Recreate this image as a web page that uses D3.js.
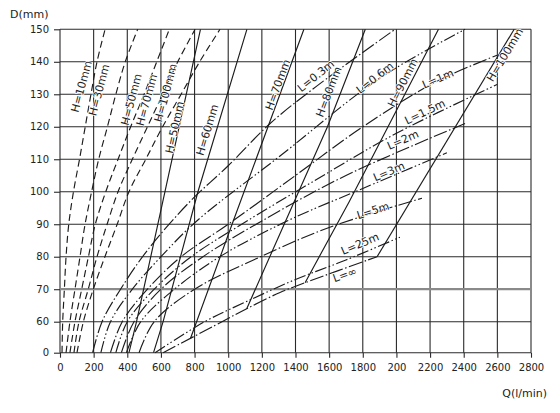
<!DOCTYPE html>
<html>
<head>
<meta charset="utf-8">
<script src="https://cdn.jsdelivr.net/npm/d3@7"></script>
<style>
  body { margin: 0; background: #fff; }
  svg text { font-family: "DejaVu Sans", sans-serif; fill: #222; }
</style>
</head>
<body>
<svg id="chart" width="560" height="413"></svg>
<script>
// Values: each point is [Q in l/min, D in mm]
const xTicks = [0, 200, 400, 600, 800, 1000, 1200, 1400, 1600, 1800, 2000, 2200, 2400, 2600, 2800];
const xTickLabels = ["0", "200", "400", "600", "800", "1000", "1200", "1400", "1600", "1800", "200", "2200", "2400", "2600", "2800"];
const yTicks = [0, 60, 70, 80, 90, 100, 110, 120, 130, 140, 150];

// dashed head curves
const hDash10 = [[12, 0], [16, 60], [26, 70], [36, 80], [52, 90], [80, 100], [116, 110], [150, 120], [184, 130], [220, 140], [268, 150]];
const hDash30 = [[36, 0], [59, 60], [89, 70], [119, 80], [149, 90], [188, 100], [230, 110], [282, 120], [332, 130], [388, 140], [462, 150]];
const hDash50 = [[59, 0], [89, 60], [129, 70], [169, 80], [210, 90], [272, 100], [345, 110], [420, 120], [500, 130], [575, 140], [650, 150]];
const hDash70 = [[83, 0], [113, 60], [168, 70], [220, 80], [280, 90], [345, 100], [430, 110], [520, 120], [610, 130], [700, 140], [803, 150]];
const hDash100 = [[101, 0], [139, 60], [198, 70], [267, 80], [340, 90], [410, 100], [510, 110], [610, 120], [720, 130], [830, 140], [951, 150]];

// solid head lines
const hSolid50 = [[410, 0], [455, 60], [624, 100], [835, 150]];
const hSolid60 = [[556, 0], [613, 60], [820, 100], [1111, 150]];
const hSolid70 = [[776, 28], [812, 60], [1030, 91], [1450, 150]];
const hSolid80 = [[1110, 64], [1590, 120], [1815, 150]];
const hSolid90 = [[1457, 72], [1720, 97], [2250, 150]];
const hSolid100 = [[1885, 80], [2700, 150]];

// length curves (dash-dot)
const l03 = [[194, 0], [250, 60], [360, 70], [520, 82], [773, 97], [1000, 108], [1249, 121], [1526, 132.5], [1992, 150]];
const l06 = [[243, 0], [300, 60], [430, 70], [600, 80], [813, 91], [1308, 111], [1902, 135], [2408, 150]];
const l1 = [[300, 0], [370, 60], [520, 70], [720, 80], [1000, 90], [1400, 105], [1800, 120], [2241, 134], [2598, 142]];
const l15 = [[332, 0], [400, 60], [560, 70], [780, 80], [1080, 90], [1500, 103], [2000, 118], [2598, 133]];
const l2 = [[365, 0], [440, 60], [600, 70], [850, 80], [1200, 91], [1700, 105], [2408, 121]];
const l3 = [[395, 0], [480, 60], [680, 70], [950, 80], [1350, 91], [1800, 101], [2300, 112]];
const l5 = [[470, 0], [560, 60], [800, 70], [1150, 79], [1600, 89], [2152, 98]];
const l25 = [[565, 0], [860, 60], [1100, 66], [1400, 73], [1700, 79], [2021, 86]];
const lInf = [[613, 0], [963, 60], [1110, 64], [1308, 69], [1457, 72], [1885, 80]];

// name, points, line kind, and where its label sits (Q, D)
const series = [
  { name: "H=10mm", pts: hDash10, kind: "dash", label: [129, 132.4] },
  { name: "H=30mm", pts: hDash30, kind: "dash", label: [234, 131.3] },
  { name: "H=50mm", pts: hDash50, kind: "dash", label: [426, 128.4] },
  { name: "H=70mm", pts: hDash70, kind: "dash", label: [517, 128.2] },
  { name: "H=100mm", pts: hDash100, kind: "dash", label: [630, 130.4] },
  { name: "H=50mm", pts: hSolid50, kind: "solid", label: [684, 119.8] },
  { name: "H=60mm", pts: hSolid60, kind: "solid", label: [877, 119] },
  { name: "H=70mm", pts: hSolid70, kind: "solid", label: [1296, 132.9] },
  { name: "H=80mm", pts: hSolid80, kind: "solid", label: [1599, 130.7] },
  { name: "H=90mm", pts: hSolid90, kind: "solid", label: [2039, 133.5] },
  { name: "H=100mm", pts: hSolid100, kind: "solid", label: [2646, 142.1] },
  { name: "L=0.3m", pts: l03, kind: "dot", label: [1522, 135.6] },
  { name: "L=0.6m", pts: l06, kind: "dot2", label: [1873, 135] },
  { name: "L=1m", pts: l1, kind: "dot", label: [2247, 134.7] },
  { name: "L=1.5m", pts: l15, kind: "dot2", label: [2170, 124.5] },
  { name: "L=2m", pts: l2, kind: "dot", label: [2039, 115.9] },
  { name: "L=3m", pts: l3, kind: "dot2", label: [1956, 106.1] },
  { name: "L=5m", pts: l5, kind: "dot", label: [1861, 94.1] },
  { name: "L=25m", pts: l25, kind: "dot2", label: [1784, 83.9] },
  { name: "L=\u221e", pts: lInf, kind: "dot", label: [1694, 74.4] }
];

const dashes = { dash: "7,4", solid: null, dot: "14,2.5,1.5,2.5", dot2: "12,2.5,1.5,2.5,1.5,2.5" };

const svg = d3.select("#chart");

const x = d3.scaleLinear().domain([0, 2800]).range([60, 531]);
// broken axis: 0 sits one step below 60
const y = d3.scaleLinear().domain([0, 60, 150]).range([352.7, 321.7, 29.3]);

// grid
const grid = svg.append("g");
grid.selectAll(".v")
    .data(xTicks)
  .enter().append("line")
    .attr("class", "v")
    .attr("x1", d => x(d)).attr("x2", d => x(d))
    .attr("y1", y(0)).attr("y2", y(150))
    .attr("stroke", "#2a2a2a")
    .attr("stroke-width", 1.1);

grid.selectAll(".h")
    .data(yTicks)
  .enter().append("line")
    .attr("class", "h")
    .attr("x1", x(0)).attr("x2", x(2800))
    .attr("y1", d => y(d)).attr("y2", d => y(d))
    .attr("stroke", d => d === 70 ? "#8a8a8a" : "#2a2a2a")
    .attr("stroke-width", d => d === 70 ? 2.2 : 1.1);

// axes: ticks outside the frame
const xAxis = svg.append("g")
    .attr("transform", `translate(0,${y(0)})`)
    .call(d3.axisBottom(x).tickValues(xTicks).tickSize(5).tickPadding(6)
      .tickFormat((d, i) => xTickLabels[i]));

const yAxis = svg.append("g")
    .attr("transform", `translate(${x(0)},0)`)
    .call(d3.axisLeft(y).tickValues(yTicks).tickSize(6).tickPadding(5));

[xAxis, yAxis].forEach(a => {
  a.select(".domain").remove();
  a.selectAll(".tick line").attr("stroke", "#2a2a2a").attr("stroke-width", 1.1);
  a.selectAll(".tick text").attr("font-size", 10).attr("fill", "#222")
    .attr("font-family", "DejaVu Sans, sans-serif");
});

// chart lines
const curved = d3.line()
    .x(d => x(d[0])).y(d => y(d[1]))
    .curve(d3.curveCatmullRom.alpha(0.5));
const straight = d3.line()
    .x(d => x(d[0])).y(d => y(d[1]));

const lineGroup = svg.append("g");
lineGroup.selectAll("path")
    .data(series)
  .enter().append("path")
    .attr("d", s => s.kind === "solid" ? straight(s.pts) : curved(s.pts))
    .attr("fill", "none")
    .attr("stroke", "#1c1c1c")
    .attr("stroke-width", 1.15)
    .attr("stroke-dasharray", s => dashes[s.kind]);

// local direction of a series near its label, in screen space
function angleAt(s, q, dd) {
  // dashed-curve labels are all written at one steep angle
  if (s.kind === "dash") return -75;
  const px = s.pts.map(p => [x(p[0]), y(p[1])]);
  const steep = s.kind === "solid";
  const ty = y(dd), tx = x(q);
  let i = 0;
  for (; i < px.length - 2; i++) {
    if (steep ? px[i + 1][1] < ty : px[i + 1][0] > tx) break;
  }
  const a = px[i], b = px[i + 1];
  return Math.atan2(b[1] - a[1], b[0] - a[0]) * 180 / Math.PI;
}

const labelGroup = svg.append("g");
labelGroup.selectAll("text")
    .data(series)
  .enter().append("text")
    .attr("text-anchor", "middle")
    .attr("dominant-baseline", "central")
    .attr("font-size", 11)
    .attr("stroke", "#fff")
    .attr("stroke-width", 1.5)
    .attr("paint-order", "stroke")
    .attr("transform", s => {
      const lx = x(s.label[0]), ly = y(s.label[1]);
      return `translate(${lx},${ly}) rotate(${angleAt(s, s.label[0], s.label[1])})`;
    })
    .text(s => s.name);

// axis titles
svg.append("text")
    .attr("x", 10).attr("y", 18)
    .attr("font-size", 11)
    .text("D(mm)");

svg.append("text")
    .attr("x", 547).attr("y", 397)
    .attr("text-anchor", "end")
    .attr("font-size", 11)
    .text("Q(l/min)");
</script>
</body>
</html>
